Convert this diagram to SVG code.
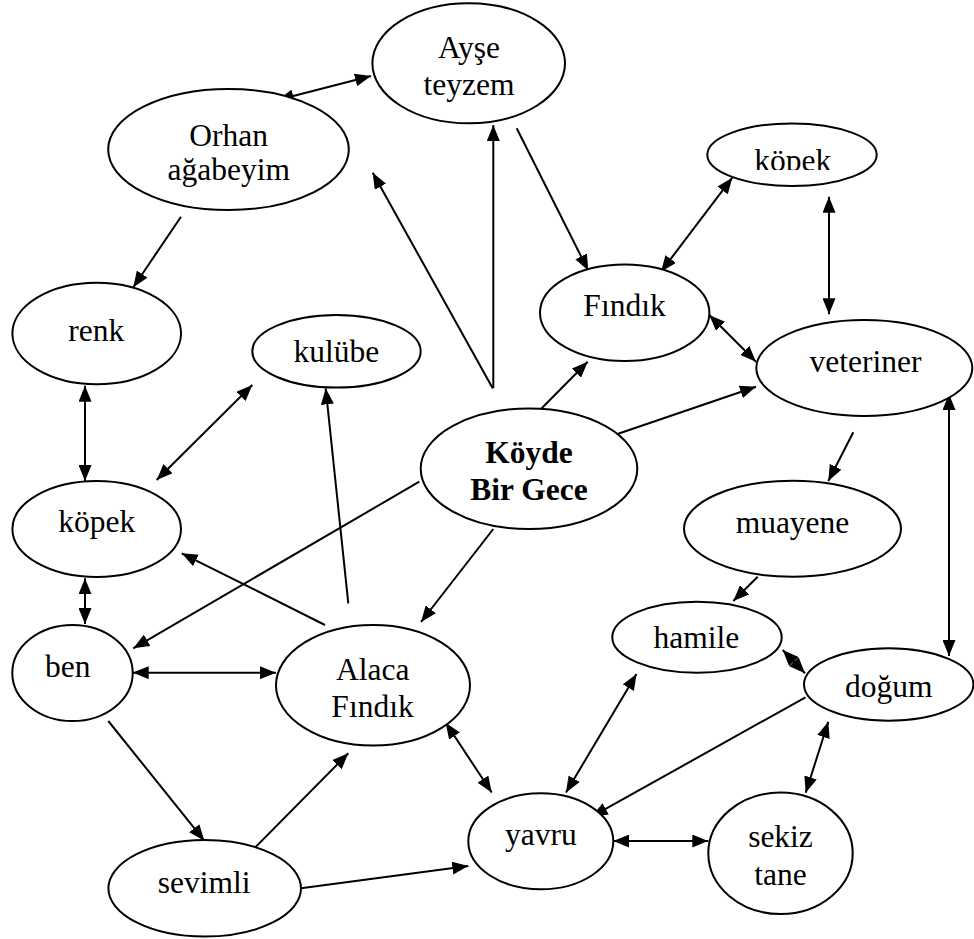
<svg xmlns="http://www.w3.org/2000/svg" width="974" height="939" viewBox="0 0 974 939">
  <style>
    .node ellipse { fill: #fff; stroke: #000; stroke-width: 2; }
    .node text { font-family: "Liberation Serif", "Times New Roman", serif; font-size: 31.5px; fill: #000; text-anchor: middle; }
    .node text.bold { font-weight: bold; }
    #connectors line { stroke: #000; stroke-width: 2; }
    .one { marker-end: url(#head); }
    .two { marker-start: url(#head); marker-end: url(#head); }
  </style>
  <defs>
    <marker id="head" markerUnits="userSpaceOnUse" viewBox="0 0 16 13" markerWidth="16" markerHeight="13" refX="16" refY="6.5" orient="auto-start-reverse">
      <path d="M0,0 L16,6.5 L0,13 z" fill="#000"/>
    </marker>
    <clipPath id="kopekTopClip">
      <rect x="700" y="100" width="200" height="70"/>
    </clipPath>
  </defs>
  <rect width="974" height="939" fill="#fff"/>

  <g id="connectors">
    <line class="two" x1="277.7" y1="100" x2="371" y2="76"/>
    <line class="one" x1="181" y1="216.7" x2="133.3" y2="287.3"/>
    <line class="one" x1="492.7" y1="388.3" x2="372.7" y2="172.7"/>
    <line class="one" x1="493.3" y1="388.3" x2="493.3" y2="125"/>
    <line class="one" x1="516.7" y1="128.3" x2="588.3" y2="270.7"/>
    <line class="two" x1="661" y1="271.7" x2="732.3" y2="177.7"/>
    <line class="two" x1="829" y1="196.7" x2="829" y2="314.3"/>
    <line class="two" x1="709.3" y1="315" x2="756" y2="361.7"/>
    <line class="one" x1="541.7" y1="408.3" x2="587.7" y2="361.7"/>
    <line class="one" x1="612.3" y1="435.7" x2="756" y2="386.7"/>
    <line class="two" x1="949" y1="394" x2="949" y2="656"/>
    <line class="one" x1="853.3" y1="432.3" x2="828.3" y2="481"/>
    <line class="one" x1="757.7" y1="576.7" x2="733.3" y2="601"/>
    <line class="two" x1="782.7" y1="650" x2="805" y2="673.3"/>
    <line class="one" x1="805.5" y1="697.3" x2="591.7" y2="816.7"/>
    <line class="two" x1="828.3" y1="721.7" x2="805.7" y2="792.7"/>
    <line class="two" x1="613.3" y1="841" x2="708.3" y2="841"/>
    <line class="two" x1="566" y1="792.5" x2="636.5" y2="674"/>
    <line class="two" x1="445.7" y1="722.7" x2="491.7" y2="792.5"/>
    <line class="one" x1="301" y1="888.3" x2="468.3" y2="866"/>
    <line class="one" x1="253.3" y1="849.3" x2="348.3" y2="753.3"/>
    <line class="one" x1="108.3" y1="721" x2="204.3" y2="840.7"/>
    <line class="two" x1="132.7" y1="672.7" x2="276" y2="672.7"/>
    <line class="two" x1="85" y1="578.3" x2="85" y2="624"/>
    <line class="two" x1="85" y1="385.7" x2="85" y2="481"/>
    <line class="two" x1="156.7" y1="480" x2="252.3" y2="385"/>
    <line class="one" x1="348.3" y1="603.3" x2="325.7" y2="388.3"/>
    <line class="one" x1="325" y1="625" x2="181.7" y2="553.3"/>
    <line class="one" x1="419.3" y1="481.7" x2="133.3" y2="648.3"/>
    <line class="one" x1="493.3" y1="529" x2="421" y2="622"/>
  </g>

  <g id="ayse" class="node">
    <ellipse cx="468.7" cy="63.3" rx="96.3" ry="60"/>
    <text x="469" y="58.3">Ayşe</text>
    <text x="469" y="95">teyzem</text>
  </g>
  <g id="orhan" class="node">
    <ellipse cx="228.5" cy="149.5" rx="120.3" ry="60.5"/>
    <text x="228.7" y="145.7">Orhan</text>
    <text x="228.7" y="180">ağabeyim</text>
  </g>
  <g id="kopek-top" class="node">
    <ellipse cx="792" cy="154.7" rx="84.7" ry="31.3"/>
    <text x="792.8" y="171" clip-path="url(#kopekTopClip)">köpek</text>
  </g>
  <g id="findik" class="node">
    <ellipse cx="624.7" cy="312.7" rx="84.7" ry="48.3"/>
    <text x="624.5" y="316">Fındık</text>
  </g>
  <g id="veteriner" class="node">
    <ellipse cx="864.3" cy="368" rx="108" ry="48"/>
    <text x="865.5" y="372">veteriner</text>
  </g>
  <g id="renk" class="node">
    <ellipse cx="96.7" cy="333.5" rx="84.3" ry="50.8"/>
    <text x="96.2" y="340.7">renk</text>
  </g>
  <g id="kulube" class="node">
    <ellipse cx="336.5" cy="351.3" rx="84.2" ry="36.3"/>
    <text x="336.3" y="361.7">kulübe</text>
  </g>
  <g id="kopek-left" class="node">
    <ellipse cx="96.7" cy="529" rx="84.3" ry="48"/>
    <text x="96.7" y="531.7">köpek</text>
  </g>
  <g id="koyde" class="node">
    <ellipse cx="529" cy="468.7" rx="108.3" ry="60.3"/>
    <text class="bold" x="529" y="463.3">Köyde</text>
    <text class="bold" x="529" y="500">Bir Gece</text>
  </g>
  <g id="muayene" class="node">
    <ellipse cx="792.5" cy="528.7" rx="108.5" ry="48"/>
    <text x="792.5" y="532.7">muayene</text>
  </g>
  <g id="hamile" class="node">
    <ellipse cx="697" cy="637.2" rx="84.7" ry="35.5"/>
    <text x="696.3" y="648.3">hamile</text>
  </g>
  <g id="dogum" class="node">
    <ellipse cx="888.7" cy="684.5" rx="84.7" ry="36.2"/>
    <text x="888.8" y="696.7">doğum</text>
  </g>
  <g id="ben" class="node">
    <ellipse cx="72.5" cy="673" rx="60.2" ry="48"/>
    <text x="67.8" y="676.7">ben</text>
  </g>
  <g id="alaca" class="node">
    <ellipse cx="373" cy="685.3" rx="97" ry="60.3"/>
    <text x="372.7" y="680">Alaca</text>
    <text x="372.5" y="716.7">Fındık</text>
  </g>
  <g id="sevimli" class="node">
    <ellipse cx="204.7" cy="888.3" rx="96.3" ry="48.3"/>
    <text x="204.2" y="892.7">sevimli</text>
  </g>
  <g id="yavru" class="node">
    <ellipse cx="540.8" cy="841.3" rx="72.5" ry="48"/>
    <text x="540.8" y="845">yavru</text>
  </g>
  <g id="sekiz" class="node">
    <ellipse cx="780.5" cy="853.3" rx="72.2" ry="60.7"/>
    <text x="780.5" y="847.3">sekiz</text>
    <text x="780.5" y="885">tane</text>
  </g>
</svg>
